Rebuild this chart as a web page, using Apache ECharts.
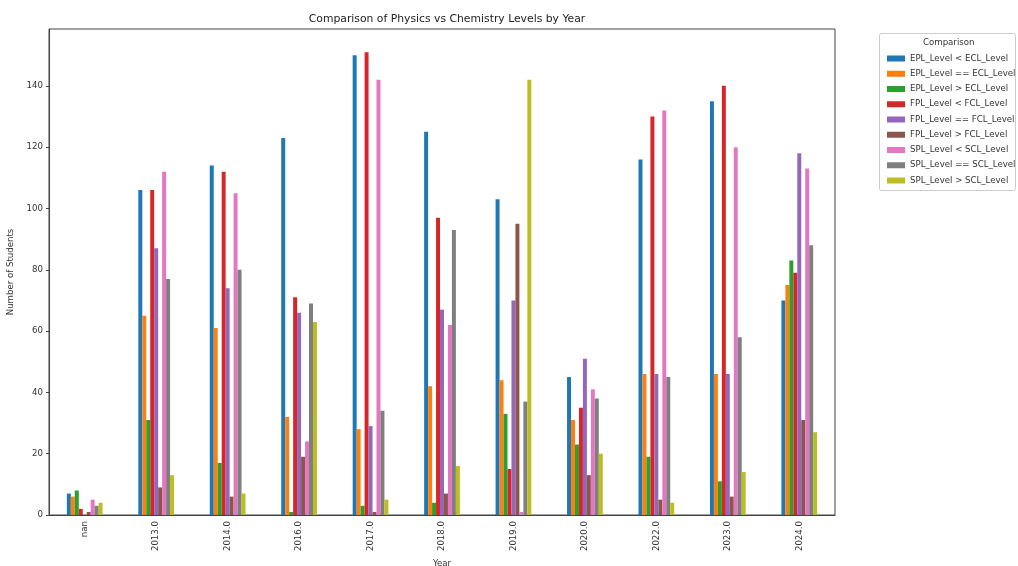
<!DOCTYPE html>
<html>
<head>
<meta charset="utf-8">
<script src="https://cdn.jsdelivr.net/npm/echarts@6/dist/echarts.min.js"></script>
<style>html,body{margin:0;padding:0;background:#fff;}#c{width:1018px;height:566px;}</style>
</head>
<body>
<div id="c"></div>
<script>
var years = ['nan','2013.0','2014.0','2016.0','2017.0','2018.0','2019.0','2020.0','2022.0','2023.0','2024.0'];
var seriesNames = ['EPL_Level < ECL_Level','EPL_Level == ECL_Level','EPL_Level > ECL_Level','FPL_Level < FCL_Level','FPL_Level == FCL_Level','FPL_Level > FCL_Level','SPL_Level < SCL_Level','SPL_Level == SCL_Level','SPL_Level > SCL_Level'];
var yTicks = [0,20,40,60,80,100,120,140];
var eplLess  = [7,106,114,123,150,125,103,45,116,135,70];
var eplEq    = [6,65,61,32,28,42,44,31,46,46,75];
var eplMore  = [8,31,17,1,3,4,33,23,19,11,83];
var fplLess  = [2,106,112,71,151,97,15,35,130,140,79];
var fplEq    = [0,87,74,66,29,67,70,51,46,46,118];
var fplMore  = [1,9,6,19,1,7,95,13,5,6,31];
var splLess  = [5,112,105,24,142,62,1,41,132,120,113];
var splEq    = [3,77,80,69,34,93,37,38,45,58,88];
var splMore  = [4,13,7,63,5,16,142,20,4,14,27];
var colors = ['#1f77b4','#ff7f0e','#2ca02c','#d62728','#9467bd','#8c564b','#e377c2','#7f7f7f','#bcbd22'];

var allData = [eplLess,eplEq,eplMore,fplLess,fplEq,fplMore,splLess,splEq,splMore];
var dataMax = Math.max.apply(null, allData.map(function(a){return Math.max.apply(null,a);}));

var chart = echarts.init(document.getElementById('c'));
var font = 'DejaVu Sans';
chart.setOption({
  animation: false,
  backgroundColor: '#fff',
  color: colors,
  title: {
    text: 'Comparison of Physics vs Chemistry Levels by Year',
    left: 442, top: 9, textAlign: 'center',
    textStyle: {fontFamily: font, fontSize: 10.8, fontWeight: 'normal', color: '#222'}
  },
  grid: {left: 49, right: 183, top: 29, bottom: 51, outerBoundsMode: 'none', containLabel: false,
    show: true, borderColor: '#444', borderWidth: 1, backgroundColor: '#fff'},
  legend: {
    orient: 'vertical', left: 882, top: 49,
    itemWidth: 18, itemHeight: 6, itemGap: 6.25,
    icon: 'rect',
    textStyle: {fontFamily: font, fontSize: 8.6, color: '#333'},
    data: seriesNames
  },
  graphic: [
    {type: 'rect', left: 879, top: 33, shape: {width: 136, height: 157, r: 2}, style: {fill: '#fff', stroke: '#ccc', lineWidth: 1}, z: -1},
    {type: 'text', left: 923, top: 38, style: {text: 'Comparison', fontFamily: font, fontSize: 8.6, fill: '#333'}}
  ],
  xAxis: {
    type: 'category', data: years,
    name: 'Year', nameLocation: 'middle', nameGap: 44,
    nameTextStyle: {fontFamily: font, fontSize: 8.6, color: '#333'},
    axisLine: {lineStyle: {color: '#444'}},
    axisTick: {alignWithLabel: true, length: 3, lineStyle: {color: '#444'}},
    axisLabel: {rotate: 90, fontFamily: font, fontSize: 8.6, color: '#333', margin: 6}
  },
  yAxis: {
    type: 'value', min: 0, max: dataMax * 1.05,
    name: 'Number of Students', nameLocation: 'middle', nameGap: 31,
    nameTextStyle: {fontFamily: font, fontSize: 8.6, color: '#333'},
    splitLine: {show: false},
    axisLine: {show: true, lineStyle: {color: '#444'}},
    axisTick: {show: true, length: 3, lineStyle: {color: '#444'}, customValues: yTicks},
    axisLabel: {fontFamily: font, fontSize: 8.6, color: '#333', margin: 6, customValues: yTicks}
  },
  series: seriesNames.map(function(n, i){
    return {name: n, type: 'bar', data: allData[i], barGap: '0%', barCategoryGap: '50%',
      itemStyle: {color: colors[i]}};
  })
});
</script>
</body>
</html>
